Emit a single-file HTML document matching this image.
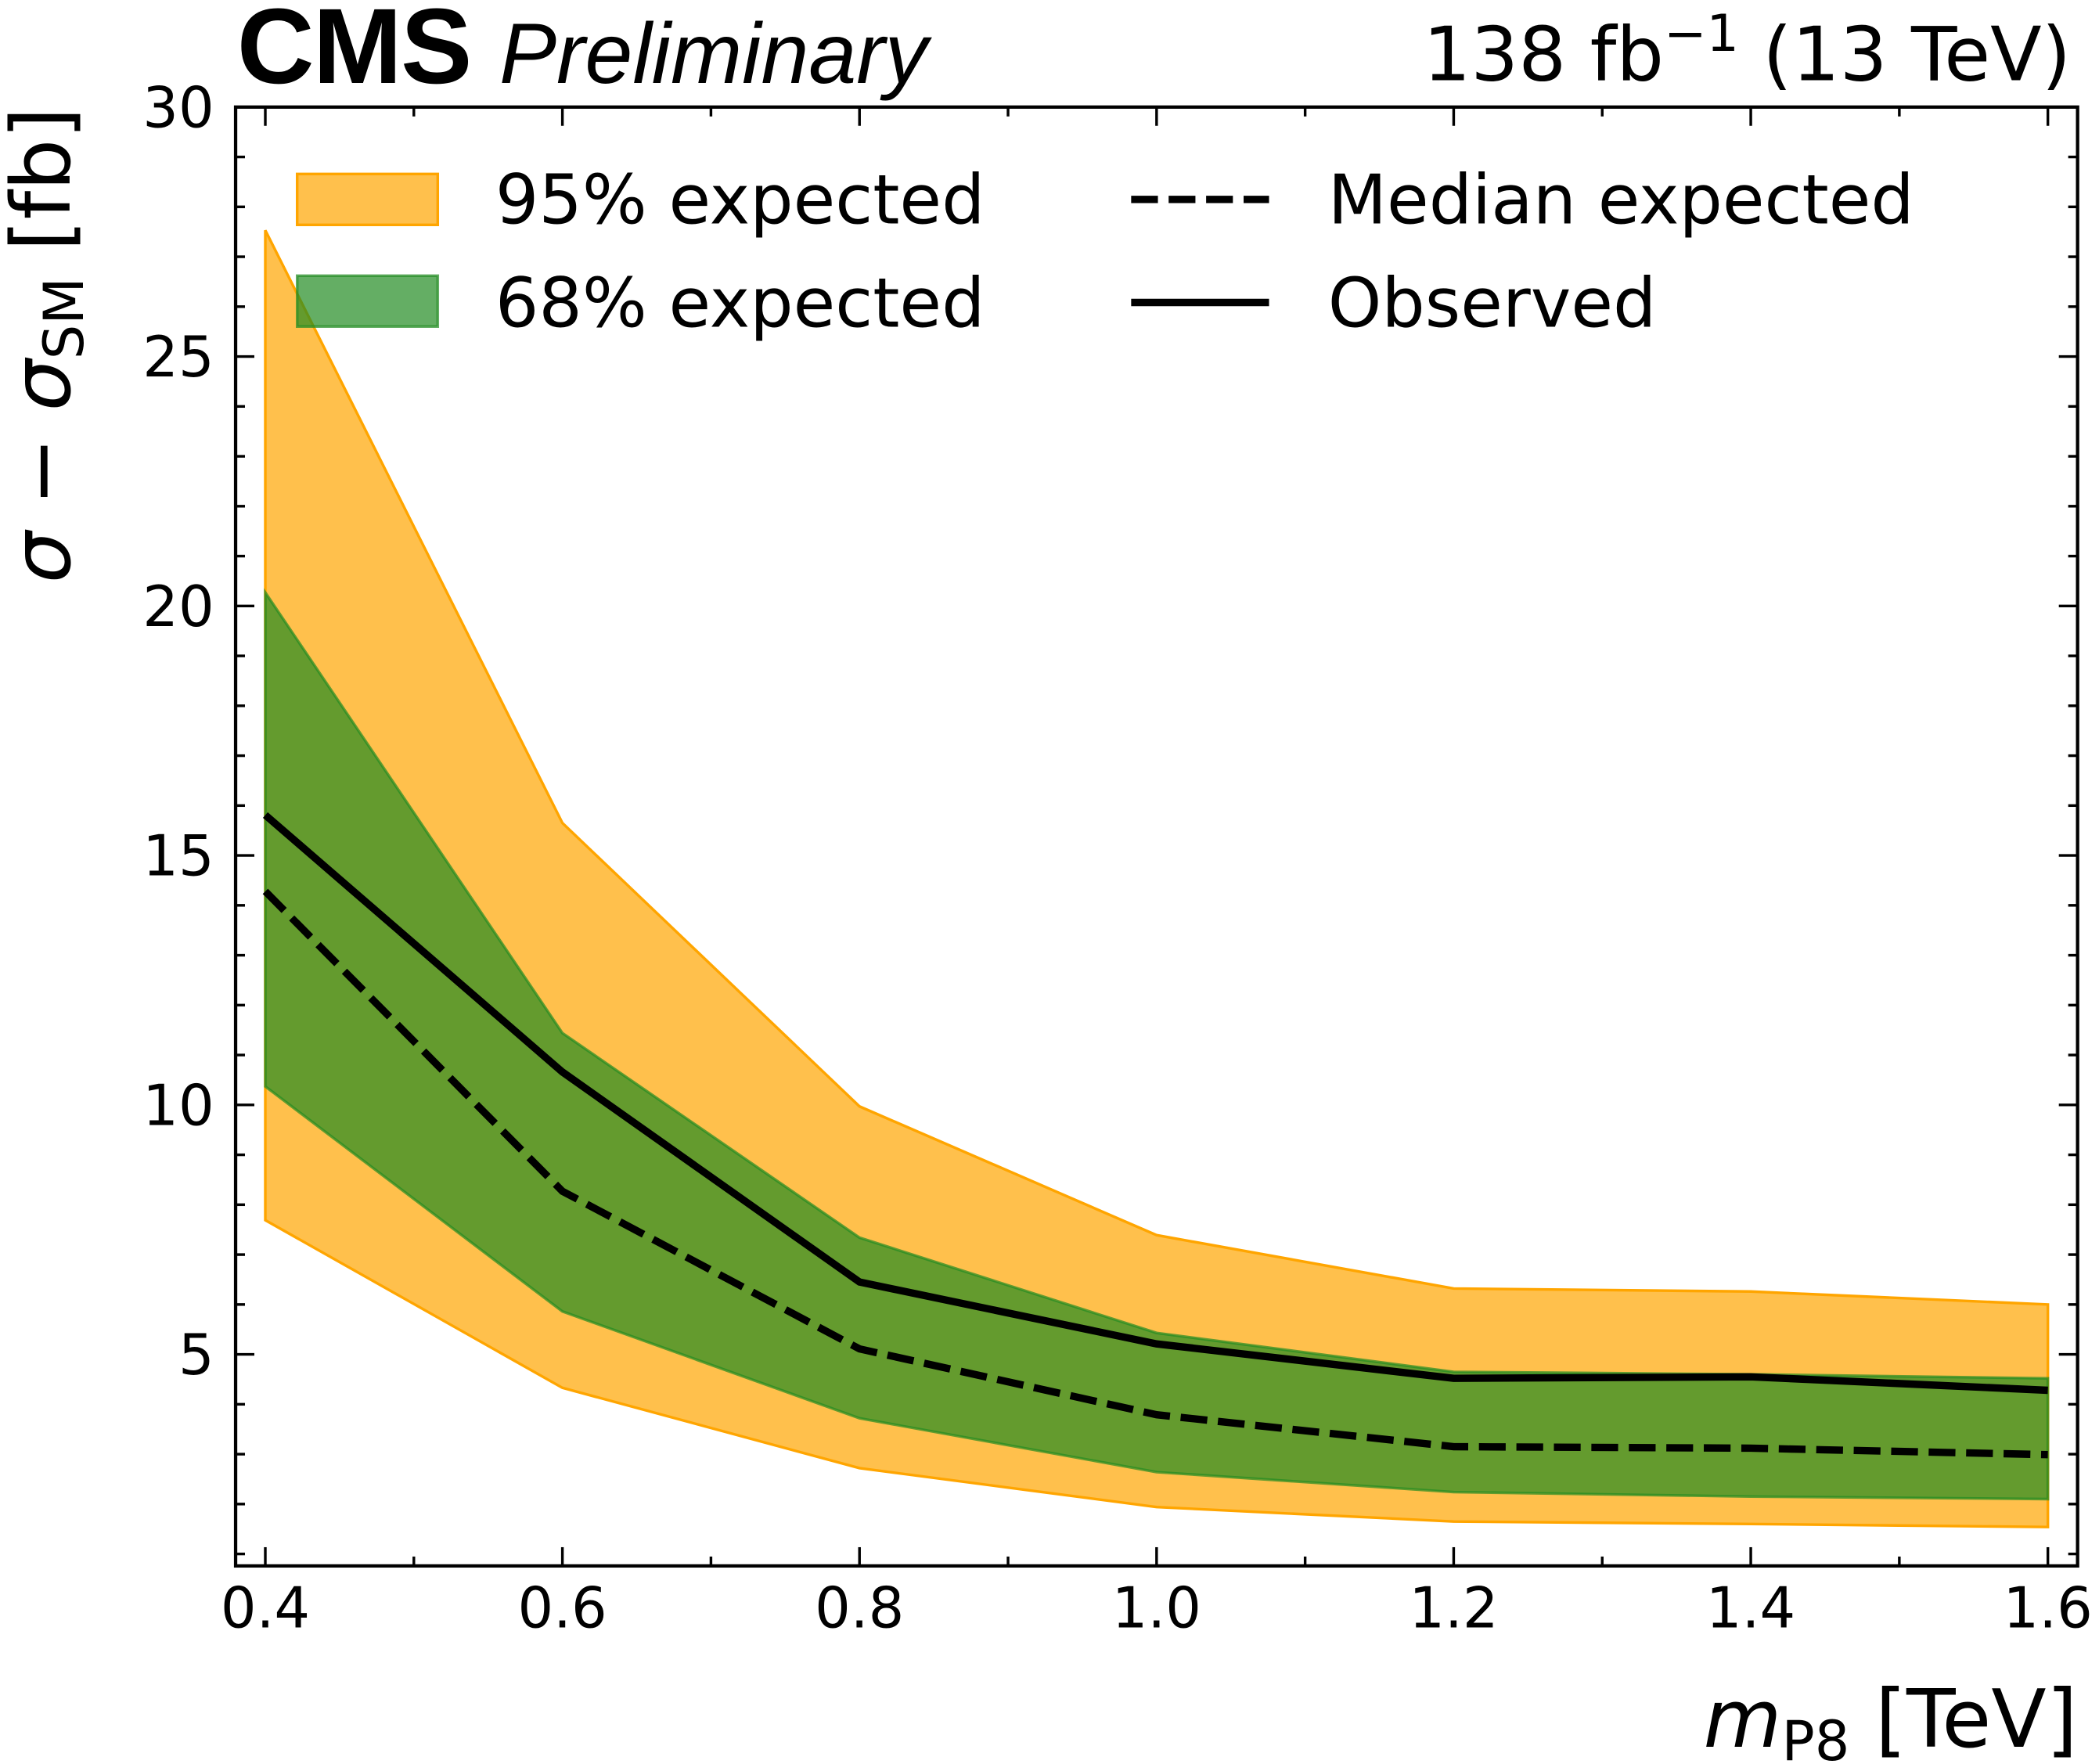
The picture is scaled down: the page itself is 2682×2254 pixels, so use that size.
<!DOCTYPE html>
<html><head><meta charset="utf-8">
<style>
html,body{margin:0;padding:0;background:#fff;}
svg{display:block;}
text{font-family:"DejaVu Sans","Liberation Sans",sans-serif;fill:#000;}
</style></head>
<body>
<svg id="chart" width="2682" height="2254" viewBox="0 0 1568 1318" preserveAspectRatio="none" xmlns="http://www.w3.org/2000/svg">
<g id="bands"></g>
<g id="lines"></g>
<rect x="176" y="80" width="1376" height="1090" fill="none" stroke="#000" stroke-width="2.5"/>
<g id="ticks"></g>
<text x="177" y="62" style="font-family:'Liberation Sans',sans-serif;font-weight:bold;font-size:80px;letter-spacing:-1px">CMS</text>
<text x="373" y="62" style="font-family:'Liberation Sans',sans-serif;font-style:italic;font-size:64px">Preliminary</text>
<text x="1547" y="60" text-anchor="end" style="font-size:56px">138 fb<tspan dy="-22" font-size="38">−1</tspan><tspan dy="22"> (13 TeV)</tspan></text>
<text x="1552" y="1305" text-anchor="end" style="font-size:60px"><tspan font-style="italic">m</tspan><tspan font-size="41" dy="10">P8</tspan><tspan dy="-10"> [TeV]</tspan></text>
<text transform="translate(52,80) rotate(-90)" text-anchor="end" style="font-size:61px"><tspan font-style="italic">σ</tspan> − <tspan font-style="italic">σ</tspan><tspan font-size="41" dy="10">SM</tspan><tspan dy="-10"> [fb]</tspan></text>
<g>
<rect x="222" y="130" width="105" height="38" fill="#FFA500" fill-opacity="0.7" stroke="#FFA500" stroke-width="2"/>
<text x="370" y="167" style="font-size:51px">95% expected</text>
<rect x="222" y="206" width="105" height="38" fill="#228B22" fill-opacity="0.7" stroke="#228B22" stroke-opacity="0.7" stroke-width="2"/>
<text x="370" y="244" style="font-size:51px">68% expected</text>
<line x1="845" y1="149" x2="948" y2="149" stroke="#000" stroke-width="5.5" stroke-dasharray="20,8"/>
<text x="992" y="167" style="font-size:51px">Median expected</text>
<line x1="845" y1="226" x2="948" y2="226" stroke="#000" stroke-width="5.5"/>
<text x="992" y="244" style="font-size:51px">Observed</text>
</g>
</svg>
<script>
const masses = [0.4, 0.6, 0.8, 1.0, 1.2, 1.4, 1.6];
const up95 = [27.53, 15.65, 9.97, 7.39, 6.32, 6.26, 6.0];
const lo95 = [7.69, 4.33, 2.72, 1.94, 1.65, 1.60, 1.54];
const up68 = [20.27, 11.44, 7.34, 5.43, 4.65, 4.60, 4.52];
const lo68 = [10.37, 5.86, 3.72, 2.64, 2.24, 2.15, 2.10];
const median = [14.28, 8.27, 5.11, 3.79, 3.15, 3.12, 2.99];
const observed = [15.81, 10.66, 6.45, 5.21, 4.52, 4.55, 4.28];
const xTicks = ["0.4","0.6","0.8","1.0","1.2","1.4","1.6"];
const yTicks = ["5","10","15","20","25","30"];

const X0=176,X1=1552,Y0=1170,Y1=80, xmin=0.38,xmax=1.62, ymin=0.76,ymax=30;
function sx(v){return X0+(v-xmin)/(xmax-xmin)*(X1-X0);}
function sy(v){return Y0-(v-ymin)/(ymax-ymin)*(Y0-Y1);}
const NS="http://www.w3.org/2000/svg";
function mk(tag,parent,attrs){const e=document.createElementNS(NS,tag);for(const k in attrs)e.setAttribute(k,attrs[k]);parent.appendChild(e);return e;}
function band(up,lo){let p=masses.map((m,i)=>sx(m)+","+sy(up[i]));for(let i=masses.length-1;i>=0;i--)p.push(sx(masses[i])+","+sy(lo[i]));return p.join(" ");}
const bands=document.getElementById('bands');
const b95=mk('polygon',bands,{points:band(up95,lo95),fill:'#FFA500','fill-opacity':0.7,stroke:'#FFA500','stroke-width':2});


const b68=mk('polygon',bands,{points:band(up68,lo68),fill:'#228B22','fill-opacity':0.7,stroke:'#228B22','stroke-opacity':0.7,'stroke-width':2});


const lines=document.getElementById('lines');
const lm=mk('polyline',lines,{points:masses.map((m,i)=>sx(m)+","+sy(median[i])).join(" "),fill:'none',stroke:'#000','stroke-width':5.5,'stroke-dasharray':'20,8'});


const lo=mk('polyline',lines,{points:masses.map((m,i)=>sx(m)+","+sy(observed[i])).join(" "),fill:'none',stroke:'#000','stroke-width':5.5});



const tk=document.getElementById('ticks');
for(let v=0.4;v<=1.6001;v+=0.1){
  const major=Math.abs(Math.round(v*10)%2)===0; const L=major?14:7; const x=sx(v);
  mk('line',tk,{x1:x,y1:Y0,x2:x,y2:Y0-L,stroke:'#000','stroke-width':2});
  mk('line',tk,{x1:x,y1:Y1,x2:x,y2:Y1+L,stroke:'#000','stroke-width':2});
}
xTicks.forEach(t=>{
  const e=mk('text',tk,{x:sx(parseFloat(t)),y:1216,'text-anchor':'middle','font-size':42});
  e.textContent=t;
  
  
});
for(let v=1;v<=30;v++){
  const major=v%5===0; const L=major?14:7; const y=sy(v);
  mk('line',tk,{x1:X0,y1:y,x2:X0+L,y2:y,stroke:'#000','stroke-width':2});
  mk('line',tk,{x1:X1,y1:y,x2:X1-L,y2:y,stroke:'#000','stroke-width':2});
}
yTicks.forEach(t=>{
  const e=mk('text',tk,{x:160,y:sy(parseFloat(t))+15,'text-anchor':'end','font-size':42});
  e.textContent=t;
  
  
});
</script>
</body></html>
